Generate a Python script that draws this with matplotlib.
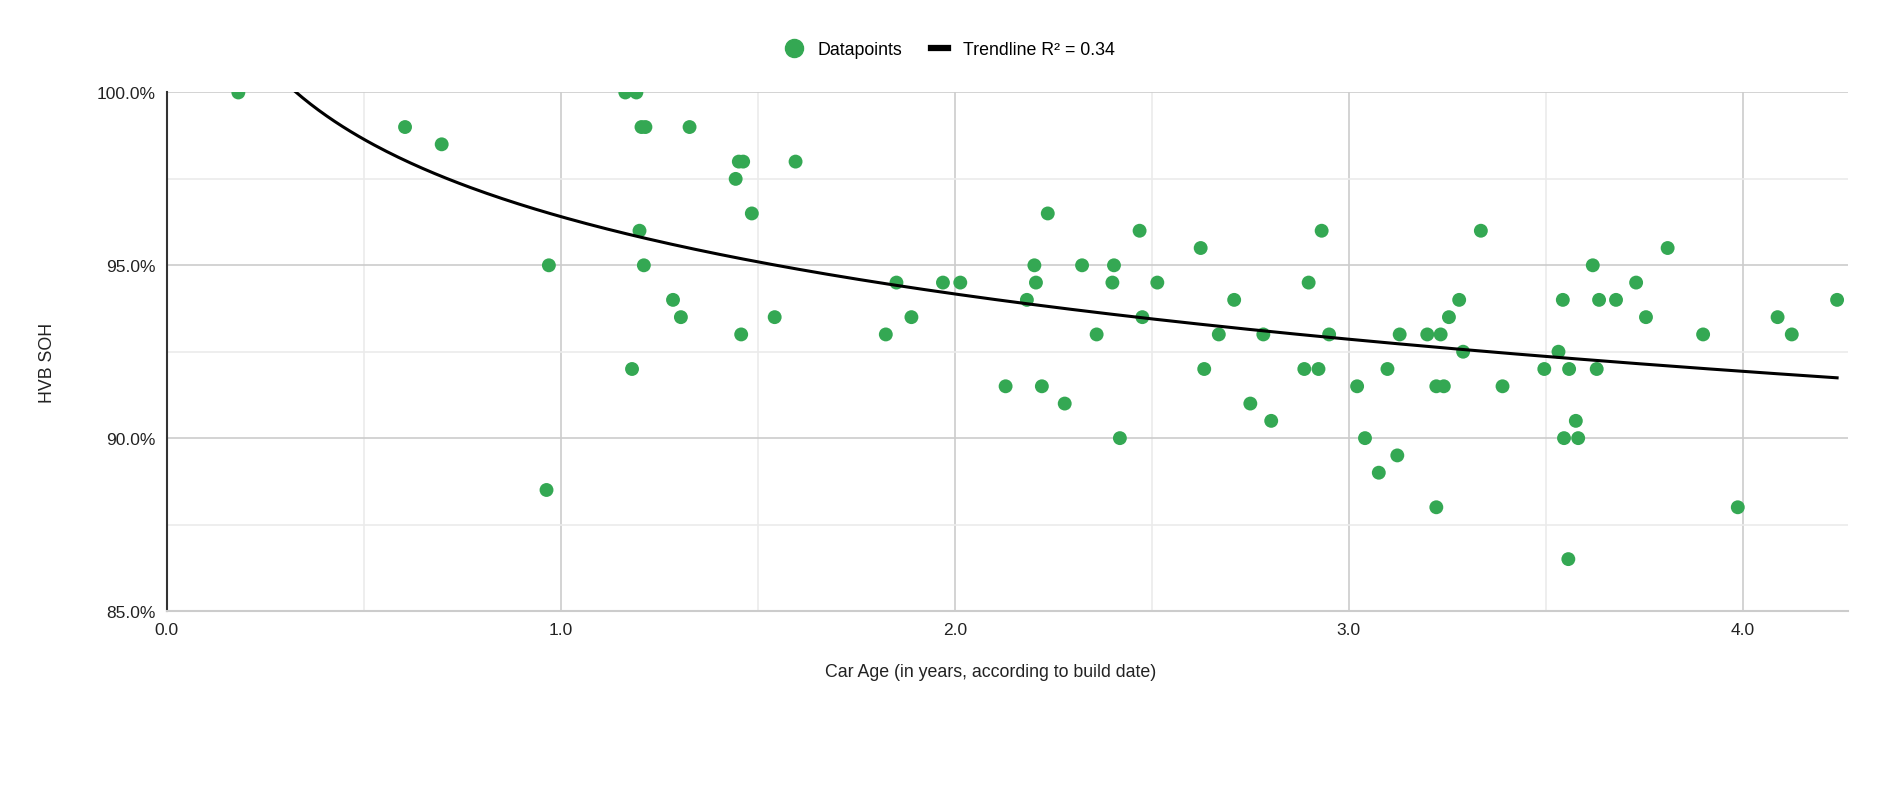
import numpy as np
import matplotlib
matplotlib.use("Agg")
import matplotlib.pyplot as plt
from matplotlib.lines import Line2D
from matplotlib.ticker import FuncFormatter, MultipleLocator

plt.rcParams['font.family'] = ['Liberation Sans', 'DejaVu Sans']

age = [0.182, 0.605, 0.698, 0.970, 0.964, 1.164, 1.192, 1.205, 1.215, 1.327,
       1.452, 1.463, 1.596, 1.444, 1.485, 1.200, 1.211, 1.285, 1.305, 1.458,
       1.543, 1.181, 1.852, 1.970, 2.014, 1.825, 1.890, 2.129, 2.236, 2.202,
       2.206, 2.183, 2.221, 2.279, 2.323, 2.360, 2.404, 2.400, 2.419, 2.469,
       2.476, 2.514, 2.624, 2.633, 2.670, 2.709, 2.750, 2.783, 2.803, 2.887,
       2.923, 2.898, 2.931, 2.950, 3.021, 3.041, 3.076, 3.098, 3.123, 3.129,
       3.199, 3.233, 3.222, 3.241, 3.222, 3.254, 3.280, 3.290, 3.335, 3.390,
       3.496, 3.532, 3.543, 3.546, 3.559, 3.557, 3.576, 3.582, 3.619, 3.629,
       3.635, 3.678, 3.729, 3.754, 3.809, 3.899, 3.987, 4.088, 4.124, 4.239]
soh = [100.0, 99.0, 98.5, 95.0, 88.5, 100.0, 100.0, 99.0, 99.0, 99.0,
       98.0, 98.0, 98.0, 97.5, 96.5, 96.0, 95.0, 94.0, 93.5, 93.0,
       93.5, 92.0, 94.5, 94.5, 94.5, 93.0, 93.5, 91.5, 96.5, 95.0,
       94.5, 94.0, 91.5, 91.0, 95.0, 93.0, 95.0, 94.5, 90.0, 96.0,
       93.5, 94.5, 95.5, 92.0, 93.0, 94.0, 91.0, 93.0, 90.5, 92.0,
       92.0, 94.5, 96.0, 93.0, 91.5, 90.0, 89.0, 92.0, 89.5, 93.0,
       93.0, 93.0, 91.5, 91.5, 88.0, 93.5, 94.0, 92.5, 96.0, 91.5,
       92.0, 92.5, 94.0, 90.0, 92.0, 86.5, 90.5, 90.0, 95.0, 92.0,
       94.0, 94.0, 94.5, 93.5, 95.5, 93.0, 88.0, 93.5, 93.0, 94.0]

# logarithmic trendline: y = a + b*ln(x)
trend_a = 96.41
trend_b = -3.23
legend_labels = ["Datapoints", "Trendline R\u00b2 = 0.34"]
x_label = "Car Age (in years, according to build date)"
y_label = "HVB SOH"

green = "#34a853"

fig = plt.figure(figsize=(19, 8.03), dpi=100)
ax = fig.add_axes([0.0877, 0.2379, 0.9727 - 0.0877, 0.8836 - 0.2379])

ax.scatter(age, soh, s=100, color=green, edgecolors='none', zorder=3)
xt = np.linspace(min(age), max(age), 400)
ax.plot(xt, trend_a + trend_b * np.log(xt), color='black', lw=2.2, zorder=4)

ax.set_xlim(0, 4.267)
ax.set_ylim(85, 100)
ax.xaxis.set_major_locator(MultipleLocator(1.0))
ax.xaxis.set_minor_locator(MultipleLocator(0.5))
ax.yaxis.set_major_locator(MultipleLocator(5.0))
ax.yaxis.set_minor_locator(MultipleLocator(2.5))
ax.xaxis.set_major_formatter(FuncFormatter(lambda v, p: f"{v:.1f}"))
ax.yaxis.set_major_formatter(FuncFormatter(lambda v, p: f"{v:.1f}%"))

ax.grid(which='major', color='#cccccc', lw=1.2)
ax.grid(which='minor', color='#ebebeb', lw=1.2)
ax.set_axisbelow(True)
ax.tick_params(which='both', length=0, labelsize=12.5, colors='#222222')
ax.tick_params(axis='y', pad=8)
ax.tick_params(axis='x', pad=8)

for s in ['top', 'right']:
    ax.spines[s].set_visible(False)
ax.spines['left'].set_color('#333333')
ax.spines['left'].set_linewidth(1.5)
ax.spines['bottom'].set_color('#cccccc')
ax.spines['bottom'].set_linewidth(1.5)

ax.set_xlabel(x_label, fontsize=12.8, color='#222222')
ax.xaxis.set_label_coords(0.49, -0.10)
ax.set_ylabel(y_label, fontsize=12.8, color='#222222')
ax.yaxis.set_label_coords(-0.066, 0.48)

handles = [Line2D([], [], marker='o', ls='none', color=green, markersize=13),
           Line2D([], [], color='black', lw=4.5)]
fig.legend(handles, legend_labels, loc='center', bbox_to_anchor=(0.5, 0.937),
           ncol=2, frameon=False, fontsize=12.8, handlelength=1.0,
           handletextpad=0.8, columnspacing=1.6)

fig.savefig("out.png", dpi=100, facecolor='white')
